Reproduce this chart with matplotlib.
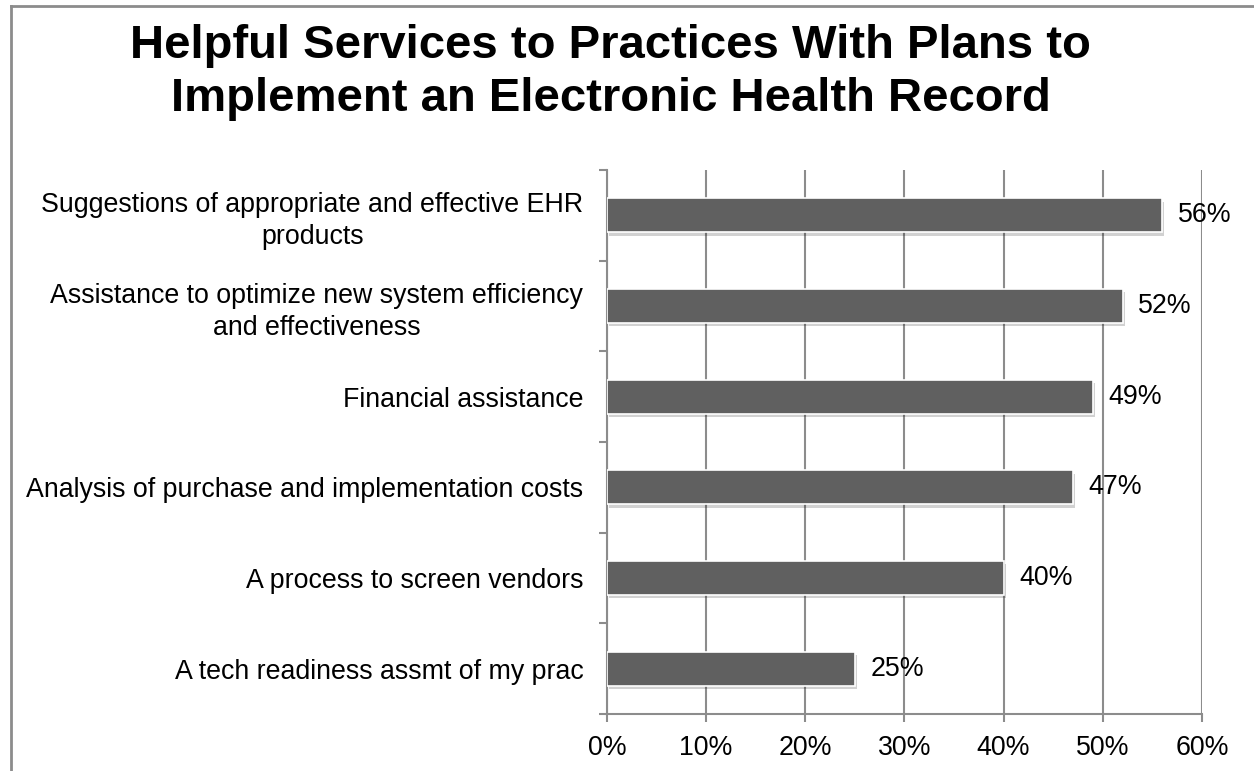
import matplotlib
matplotlib.use('Agg')
import matplotlib.pyplot as plt
import matplotlib.patheffects as pe
from matplotlib.lines import Line2D

plt.rcParams['font.family'] = ['Liberation Sans', 'DejaVu Sans']

# ── Data (top to bottom) ──────────────────────────────────────────────────────
services = [
    'Suggestions of appropriate and effective EHR\nproducts',
    'Assistance to optimize new system efficiency\nand effectiveness',
    'Financial assistance',
    'Analysis of purchase and implementation costs',
    'A process to screen vendors',
    'A tech readiness assmt of my prac',
]
share_pct = [56, 52, 49, 47, 40, 25]
x_ticks = [0, 10, 20, 30, 40, 50, 60]

GRID = '#8c8c8c'
BAR = '#606060'
FS = 19.3

fig = plt.figure(figsize=(12.54, 7.71), dpi=100)
ax = fig.add_axes([0.484, 0.0739, 0.4745, 0.7056])

n = len(services)
ypos = list(range(n))[::-1]

bars = ax.barh(ypos, share_pct, height=0.375, color=BAR,
               edgecolor='white', linewidth=1.2, zorder=3)
for b in bars:
    b.set_path_effects([pe.SimplePatchShadow(offset=(1.5, -2.5), shadow_rgbFace='black', alpha=0.18),
                        pe.Normal()])

for y, v in zip(ypos, share_pct):
    ax.annotate('%d%%' % v, xy=(v, y), xytext=(11, 0), textcoords='offset points',
                va='center', ha='left', fontsize=FS, zorder=5)

ax.set_xlim(0, 60)
ax.set_ylim(-0.5, n - 0.5)
ax.set_xticks(x_ticks)
ax.set_xticklabels(['%d%%' % t for t in x_ticks], fontsize=FS)
ax.set_yticks(ypos)
ax.set_yticklabels(services, fontsize=FS, multialignment='center', linespacing=1.28)
ax.set_yticks([i - 0.5 for i in range(n + 1)], minor=True)

ax.grid(axis='x', color=GRID, linewidth=1.5, zorder=0)
ax.spines['top'].set_visible(False)
ax.spines['right'].set_visible(False)
for s in ['left', 'bottom']:
    ax.spines[s].set_color(GRID)
    ax.spines[s].set_linewidth(1.5)

ax.tick_params(axis='y', which='major', length=0, pad=17)
ax.tick_params(axis='y', which='minor', length=6, width=1.5, color=GRID)
ax.tick_params(axis='x', length=6, width=1.5, color=GRID, pad=9)

fig.text(0.487, 0.906, 'Helpful Services to Practices With Plans to\nImplement an Electronic Health Record',
         ha='center', va='center', fontsize=34, fontweight='bold', linespacing=1.28)

# outer frame (left and top edges)
fig.add_artist(Line2D([11 / 1254, 11 / 1254], [0, 1 - 6 / 771], color=GRID, linewidth=2,
                      transform=fig.transFigure))
fig.add_artist(Line2D([11 / 1254, 1], [1 - 6 / 771, 1 - 6 / 771], color=GRID, linewidth=2,
                      transform=fig.transFigure))

fig.savefig('out.png', dpi=100)
